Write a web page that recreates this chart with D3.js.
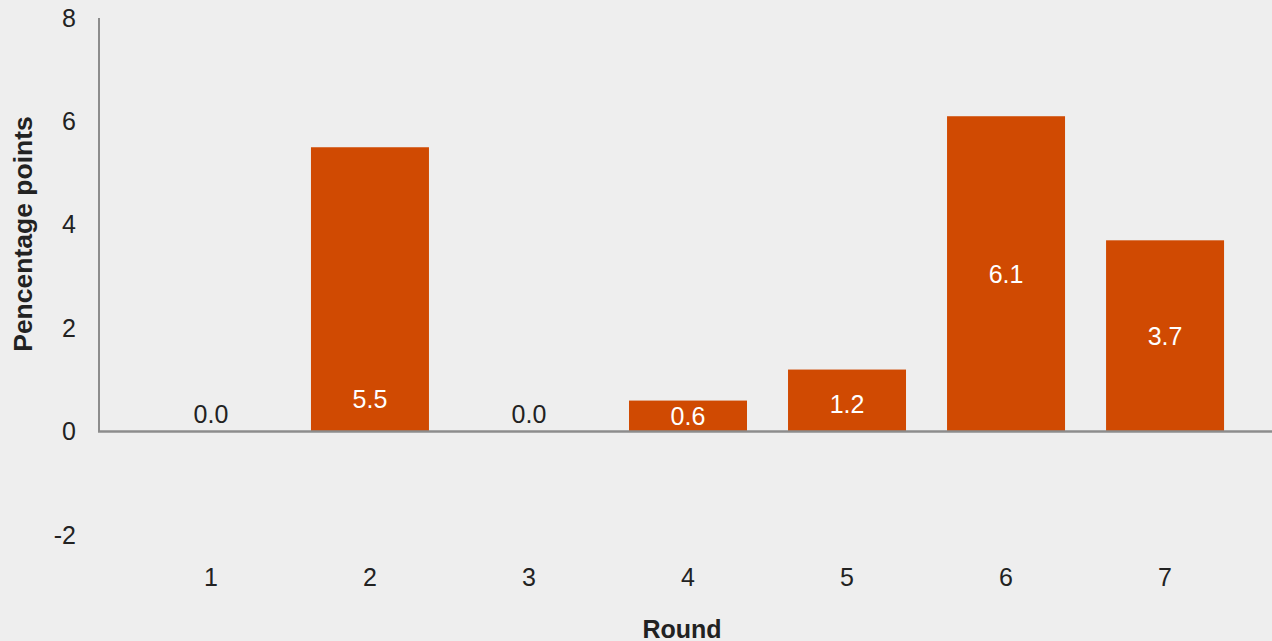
<!DOCTYPE html>
<html>
<head>
<meta charset="utf-8">
<script src="https://cdn.jsdelivr.net/npm/d3@7"></script>
<style>
  html, body { margin: 0; padding: 0; background: #eeeeee; }
  svg { display: block; }
  text { font-family: "Liberation Sans", Arial, Helvetica, sans-serif; }
</style>
</head>
<body>
<svg id="chart" width="1272" height="641"></svg>
<script>
// Change by round, in percentage points
const rounds = ["1", "2", "3", "4", "5", "6", "7"];
const values = [0.0, 5.5, 0.0, 0.6, 1.2, 6.1, 3.7];
// Where each value label sits, in data units
const labelAnchors = [0.33, 0.62, 0.33, 0.29, 0.52, 3.05, 1.85];
const yTicks = [-2, 0, 2, 4, 6, 8];

const svg = d3.select("#chart");
const W = 1272, H = 641;
const left = 99;

const x = d3.scaleBand()
  .domain(rounds)
  .range([left, 1277])
  .paddingInner(0.258)
  .paddingOuter(0.333);

const y = d3.scaleLinear()
  .domain([-2, 8])
  .range([535, 18]);

svg.append("rect").attr("width", W).attr("height", H).attr("fill", "#eeeeee");

// Bars
svg.append("g").selectAll("rect")
  .data(values)
  .join("rect")
  .attr("x", (d, i) => x(rounds[i]))
  .attr("width", x.bandwidth())
  .attr("y", d => y(Math.max(0, d)))
  .attr("height", d => Math.abs(y(d) - y(0)))
  .attr("fill", "#d04a02");

// Value labels
svg.append("g").selectAll("text")
  .data(values)
  .join("text")
  .attr("x", (d, i) => x(rounds[i]) + x.bandwidth() / 2)
  .attr("y", (d, i) => y(labelAnchors[i]))
  .attr("dy", "0.35em")
  .attr("text-anchor", "middle")
  .attr("font-size", 25)
  .attr("fill", d => d > 0 ? "#ffffff" : "#222222")
  .text(d => d3.format(".1f")(d));

// Y axis line (top to zero)
svg.append("line")
  .attr("x1", left).attr("x2", left)
  .attr("y1", y(8)).attr("y2", y(0))
  .attr("stroke", "#8c8c8c").attr("stroke-width", 2);

// Zero baseline
svg.append("line")
  .attr("x1", left - 1).attr("x2", W)
  .attr("y1", y(0)).attr("y2", y(0))
  .attr("stroke", "#8c8c8c").attr("stroke-width", 2.5);

// Y tick labels
const yAxis = d3.axisLeft(y).tickValues(yTicks).tickSize(0).tickPadding(23)
  .tickFormat(d => String(d));
const gy = svg.append("g").attr("transform", `translate(${left},0)`).call(yAxis);
gy.select(".domain").remove();
gy.selectAll("text")
  .attr("font-size", 25)
  .attr("fill", "#222222")
  .attr("font-family", "'Liberation Sans', Arial, sans-serif");

// X tick labels
const xAxis = d3.axisBottom(x).tickSize(0).tickPadding(0);
const gx = svg.append("g").attr("transform", `translate(0,${y(-2)})`).call(xAxis);
gx.select(".domain").remove();
gx.selectAll("text")
  .attr("y", 51)
  .attr("dy", "0")
  .attr("font-size", 25)
  .attr("fill", "#222222")
  .attr("font-family", "'Liberation Sans', Arial, sans-serif");

// Axis titles
svg.append("text")
  .attr("x", 682).attr("y", 638)
  .attr("text-anchor", "middle")
  .attr("font-size", 25)
  .attr("font-weight", "bold")
  .attr("fill", "#222222")
  .text("Round");

svg.append("text")
  .attr("transform", "translate(32,234) rotate(-90)")
  .attr("text-anchor", "middle")
  .attr("font-size", 26.5)
  .attr("font-weight", "bold")
  .attr("fill", "#222222")
  .text("Pencentage points");
</script>
</body>
</html>
